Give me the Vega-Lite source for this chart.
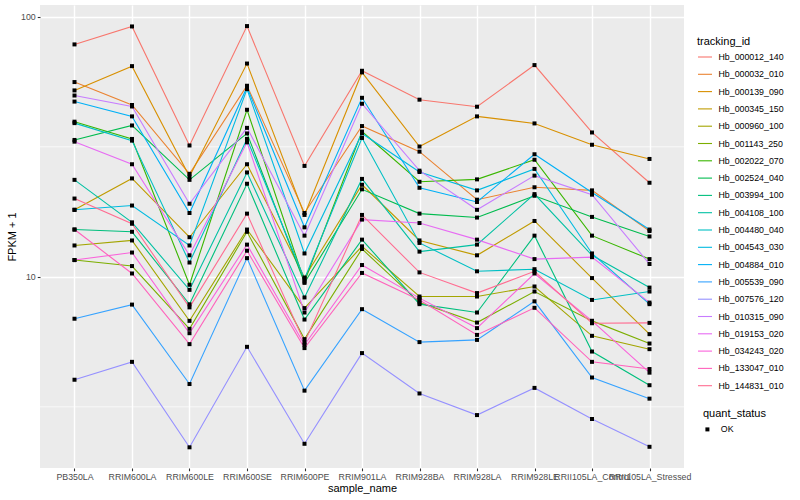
{
"$schema":"https://vega.github.io/schema/vega-lite/v6.json",
"width":644,"height":463,
"autosize":{"type":"none"},
"padding":{"left":40,"top":5,"right":116,"bottom":32},
"background":"white",
"config":{"view":{"fill":"#EBEBEB","stroke":null},"font":"Liberation Sans"},
"data":{"values":[
{"tracking_id":"Hb_000012_140","sample_name":"PB350LA","FPKM":78.3,"quant_status":"OK"},
{"tracking_id":"Hb_000012_140","sample_name":"RRIM600LA","FPKM":91.8,"quant_status":"OK"},
{"tracking_id":"Hb_000012_140","sample_name":"RRIM600LE","FPKM":32.0,"quant_status":"OK"},
{"tracking_id":"Hb_000012_140","sample_name":"RRIM600SE","FPKM":92.1,"quant_status":"OK"},
{"tracking_id":"Hb_000012_140","sample_name":"RRIM600PE","FPKM":26.7,"quant_status":"OK"},
{"tracking_id":"Hb_000012_140","sample_name":"RRIM901LA","FPKM":62.0,"quant_status":"OK"},
{"tracking_id":"Hb_000012_140","sample_name":"RRIM928BA","FPKM":48.0,"quant_status":"OK"},
{"tracking_id":"Hb_000012_140","sample_name":"RRIM928LA","FPKM":45.1,"quant_status":"OK"},
{"tracking_id":"Hb_000012_140","sample_name":"RRIM928LE","FPKM":65.2,"quant_status":"OK"},
{"tracking_id":"Hb_000012_140","sample_name":"RRII105LA_Control","FPKM":35.9,"quant_status":"OK"},
{"tracking_id":"Hb_000012_140","sample_name":"RRII105LA_Stressed","FPKM":23.0,"quant_status":"OK"},
{"tracking_id":"Hb_000032_010","sample_name":"PB350LA","FPKM":56.1,"quant_status":"OK"},
{"tracking_id":"Hb_000032_010","sample_name":"RRIM600LA","FPKM":45.8,"quant_status":"OK"},
{"tracking_id":"Hb_000032_010","sample_name":"RRIM600LE","FPKM":24.9,"quant_status":"OK"},
{"tracking_id":"Hb_000032_010","sample_name":"RRIM600SE","FPKM":54.3,"quant_status":"OK"},
{"tracking_id":"Hb_000032_010","sample_name":"RRIM600PE","FPKM":17.6,"quant_status":"OK"},
{"tracking_id":"Hb_000032_010","sample_name":"RRIM901LA","FPKM":38.0,"quant_status":"OK"},
{"tracking_id":"Hb_000032_010","sample_name":"RRIM928BA","FPKM":30.3,"quant_status":"OK"},
{"tracking_id":"Hb_000032_010","sample_name":"RRIM928LA","FPKM":19.8,"quant_status":"OK"},
{"tracking_id":"Hb_000032_010","sample_name":"RRIM928LE","FPKM":22.1,"quant_status":"OK"},
{"tracking_id":"Hb_000032_010","sample_name":"RRII105LA_Control","FPKM":21.5,"quant_status":"OK"},
{"tracking_id":"Hb_000032_010","sample_name":"RRII105LA_Stressed","FPKM":15.0,"quant_status":"OK"},
{"tracking_id":"Hb_000139_090","sample_name":"PB350LA","FPKM":52.1,"quant_status":"OK"},
{"tracking_id":"Hb_000139_090","sample_name":"RRIM600LA","FPKM":64.6,"quant_status":"OK"},
{"tracking_id":"Hb_000139_090","sample_name":"RRIM600LE","FPKM":24.3,"quant_status":"OK"},
{"tracking_id":"Hb_000139_090","sample_name":"RRIM600SE","FPKM":66.1,"quant_status":"OK"},
{"tracking_id":"Hb_000139_090","sample_name":"RRIM600PE","FPKM":17.3,"quant_status":"OK"},
{"tracking_id":"Hb_000139_090","sample_name":"RRIM901LA","FPKM":61.1,"quant_status":"OK"},
{"tracking_id":"Hb_000139_090","sample_name":"RRIM928BA","FPKM":31.7,"quant_status":"OK"},
{"tracking_id":"Hb_000139_090","sample_name":"RRIM928LA","FPKM":41.4,"quant_status":"OK"},
{"tracking_id":"Hb_000139_090","sample_name":"RRIM928LE","FPKM":38.9,"quant_status":"OK"},
{"tracking_id":"Hb_000139_090","sample_name":"RRII105LA_Control","FPKM":32.2,"quant_status":"OK"},
{"tracking_id":"Hb_000139_090","sample_name":"RRII105LA_Stressed","FPKM":28.4,"quant_status":"OK"},
{"tracking_id":"Hb_000345_150","sample_name":"PB350LA","FPKM":18.1,"quant_status":"OK"},
{"tracking_id":"Hb_000345_150","sample_name":"RRIM600LA","FPKM":23.9,"quant_status":"OK"},
{"tracking_id":"Hb_000345_150","sample_name":"RRIM600LE","FPKM":14.2,"quant_status":"OK"},
{"tracking_id":"Hb_000345_150","sample_name":"RRIM600SE","FPKM":27.1,"quant_status":"OK"},
{"tracking_id":"Hb_000345_150","sample_name":"RRIM600PE","FPKM":9.94,"quant_status":"OK"},
{"tracking_id":"Hb_000345_150","sample_name":"RRIM901LA","FPKM":22.6,"quant_status":"OK"},
{"tracking_id":"Hb_000345_150","sample_name":"RRIM928BA","FPKM":13.8,"quant_status":"OK"},
{"tracking_id":"Hb_000345_150","sample_name":"RRIM928LA","FPKM":12.1,"quant_status":"OK"},
{"tracking_id":"Hb_000345_150","sample_name":"RRIM928LE","FPKM":16.4,"quant_status":"OK"},
{"tracking_id":"Hb_000345_150","sample_name":"RRII105LA_Control","FPKM":9.89,"quant_status":"OK"},
{"tracking_id":"Hb_000345_150","sample_name":"RRII105LA_Stressed","FPKM":6.02,"quant_status":"OK"},
{"tracking_id":"Hb_000960_100","sample_name":"PB350LA","FPKM":13.2,"quant_status":"OK"},
{"tracking_id":"Hb_000960_100","sample_name":"RRIM600LA","FPKM":13.8,"quant_status":"OK"},
{"tracking_id":"Hb_000960_100","sample_name":"RRIM600LE","FPKM":6.77,"quant_status":"OK"},
{"tracking_id":"Hb_000960_100","sample_name":"RRIM600SE","FPKM":15.2,"quant_status":"OK"},
{"tracking_id":"Hb_000960_100","sample_name":"RRIM600PE","FPKM":7.58,"quant_status":"OK"},
{"tracking_id":"Hb_000960_100","sample_name":"RRIM901LA","FPKM":13.1,"quant_status":"OK"},
{"tracking_id":"Hb_000960_100","sample_name":"RRIM928BA","FPKM":8.40,"quant_status":"OK"},
{"tracking_id":"Hb_000960_100","sample_name":"RRIM928LA","FPKM":8.40,"quant_status":"OK"},
{"tracking_id":"Hb_000960_100","sample_name":"RRIM928LE","FPKM":9.18,"quant_status":"OK"},
{"tracking_id":"Hb_000960_100","sample_name":"RRII105LA_Control","FPKM":5.93,"quant_status":"OK"},
{"tracking_id":"Hb_000960_100","sample_name":"RRII105LA_Stressed","FPKM":5.27,"quant_status":"OK"},
{"tracking_id":"Hb_001143_250","sample_name":"PB350LA","FPKM":11.6,"quant_status":"OK"},
{"tracking_id":"Hb_001143_250","sample_name":"RRIM600LA","FPKM":11.0,"quant_status":"OK"},
{"tracking_id":"Hb_001143_250","sample_name":"RRIM600LE","FPKM":6.31,"quant_status":"OK"},
{"tracking_id":"Hb_001143_250","sample_name":"RRIM600SE","FPKM":14.9,"quant_status":"OK"},
{"tracking_id":"Hb_001143_250","sample_name":"RRIM600PE","FPKM":5.76,"quant_status":"OK"},
{"tracking_id":"Hb_001143_250","sample_name":"RRIM901LA","FPKM":12.8,"quant_status":"OK"},
{"tracking_id":"Hb_001143_250","sample_name":"RRIM928BA","FPKM":7.96,"quant_status":"OK"},
{"tracking_id":"Hb_001143_250","sample_name":"RRIM928LA","FPKM":6.67,"quant_status":"OK"},
{"tracking_id":"Hb_001143_250","sample_name":"RRIM928LE","FPKM":8.78,"quant_status":"OK"},
{"tracking_id":"Hb_001143_250","sample_name":"RRII105LA_Control","FPKM":6.77,"quant_status":"OK"},
{"tracking_id":"Hb_001143_250","sample_name":"RRII105LA_Stressed","FPKM":5.54,"quant_status":"OK"},
{"tracking_id":"Hb_002022_070","sample_name":"PB350LA","FPKM":39.5,"quant_status":"OK"},
{"tracking_id":"Hb_002022_070","sample_name":"RRIM600LA","FPKM":33.9,"quant_status":"OK"},
{"tracking_id":"Hb_002022_070","sample_name":"RRIM600LE","FPKM":9.32,"quant_status":"OK"},
{"tracking_id":"Hb_002022_070","sample_name":"RRIM600SE","FPKM":43.9,"quant_status":"OK"},
{"tracking_id":"Hb_002022_070","sample_name":"RRIM600PE","FPKM":9.59,"quant_status":"OK"},
{"tracking_id":"Hb_002022_070","sample_name":"RRIM901LA","FPKM":36.2,"quant_status":"OK"},
{"tracking_id":"Hb_002022_070","sample_name":"RRIM928BA","FPKM":23.2,"quant_status":"OK"},
{"tracking_id":"Hb_002022_070","sample_name":"RRIM928LA","FPKM":23.7,"quant_status":"OK"},
{"tracking_id":"Hb_002022_070","sample_name":"RRIM928LE","FPKM":28.2,"quant_status":"OK"},
{"tracking_id":"Hb_002022_070","sample_name":"RRII105LA_Control","FPKM":14.4,"quant_status":"OK"},
{"tracking_id":"Hb_002022_070","sample_name":"RRII105LA_Stressed","FPKM":11.7,"quant_status":"OK"},
{"tracking_id":"Hb_002524_040","sample_name":"PB350LA","FPKM":33.6,"quant_status":"OK"},
{"tracking_id":"Hb_002524_040","sample_name":"RRIM600LA","FPKM":38.2,"quant_status":"OK"},
{"tracking_id":"Hb_002524_040","sample_name":"RRIM600LE","FPKM":23.6,"quant_status":"OK"},
{"tracking_id":"Hb_002524_040","sample_name":"RRIM600SE","FPKM":35.6,"quant_status":"OK"},
{"tracking_id":"Hb_002524_040","sample_name":"RRIM600PE","FPKM":9.48,"quant_status":"OK"},
{"tracking_id":"Hb_002524_040","sample_name":"RRIM901LA","FPKM":21.7,"quant_status":"OK"},
{"tracking_id":"Hb_002524_040","sample_name":"RRIM928BA","FPKM":17.5,"quant_status":"OK"},
{"tracking_id":"Hb_002524_040","sample_name":"RRIM928LA","FPKM":16.9,"quant_status":"OK"},
{"tracking_id":"Hb_002524_040","sample_name":"RRIM928LE","FPKM":20.5,"quant_status":"OK"},
{"tracking_id":"Hb_002524_040","sample_name":"RRII105LA_Control","FPKM":17.0,"quant_status":"OK"},
{"tracking_id":"Hb_002524_040","sample_name":"RRII105LA_Stressed","FPKM":14.3,"quant_status":"OK"},
{"tracking_id":"Hb_003994_100","sample_name":"PB350LA","FPKM":15.2,"quant_status":"OK"},
{"tracking_id":"Hb_003994_100","sample_name":"RRIM600LA","FPKM":14.9,"quant_status":"OK"},
{"tracking_id":"Hb_003994_100","sample_name":"RRIM600LE","FPKM":7.84,"quant_status":"OK"},
{"tracking_id":"Hb_003994_100","sample_name":"RRIM600SE","FPKM":22.8,"quant_status":"OK"},
{"tracking_id":"Hb_003994_100","sample_name":"RRIM600PE","FPKM":6.85,"quant_status":"OK"},
{"tracking_id":"Hb_003994_100","sample_name":"RRIM901LA","FPKM":13.9,"quant_status":"OK"},
{"tracking_id":"Hb_003994_100","sample_name":"RRIM928BA","FPKM":7.85,"quant_status":"OK"},
{"tracking_id":"Hb_003994_100","sample_name":"RRIM928LA","FPKM":7.29,"quant_status":"OK"},
{"tracking_id":"Hb_003994_100","sample_name":"RRIM928LE","FPKM":14.4,"quant_status":"OK"},
{"tracking_id":"Hb_003994_100","sample_name":"RRII105LA_Control","FPKM":5.16,"quant_status":"OK"},
{"tracking_id":"Hb_003994_100","sample_name":"RRII105LA_Stressed","FPKM":3.83,"quant_status":"OK"},
{"tracking_id":"Hb_004108_100","sample_name":"PB350LA","FPKM":23.6,"quant_status":"OK"},
{"tracking_id":"Hb_004108_100","sample_name":"RRIM600LA","FPKM":16.2,"quant_status":"OK"},
{"tracking_id":"Hb_004108_100","sample_name":"RRIM600LE","FPKM":8.91,"quant_status":"OK"},
{"tracking_id":"Hb_004108_100","sample_name":"RRIM600SE","FPKM":25.2,"quant_status":"OK"},
{"tracking_id":"Hb_004108_100","sample_name":"RRIM600PE","FPKM":8.33,"quant_status":"OK"},
{"tracking_id":"Hb_004108_100","sample_name":"RRIM901LA","FPKM":23.8,"quant_status":"OK"},
{"tracking_id":"Hb_004108_100","sample_name":"RRIM928BA","FPKM":12.5,"quant_status":"OK"},
{"tracking_id":"Hb_004108_100","sample_name":"RRIM928LA","FPKM":13.3,"quant_status":"OK"},
{"tracking_id":"Hb_004108_100","sample_name":"RRIM928LE","FPKM":20.8,"quant_status":"OK"},
{"tracking_id":"Hb_004108_100","sample_name":"RRII105LA_Control","FPKM":12.1,"quant_status":"OK"},
{"tracking_id":"Hb_004108_100","sample_name":"RRII105LA_Stressed","FPKM":9.09,"quant_status":"OK"},
{"tracking_id":"Hb_004480_040","sample_name":"PB350LA","FPKM":39.0,"quant_status":"OK"},
{"tracking_id":"Hb_004480_040","sample_name":"RRIM600LA","FPKM":33.4,"quant_status":"OK"},
{"tracking_id":"Hb_004480_040","sample_name":"RRIM600LE","FPKM":11.35,"quant_status":"OK"},
{"tracking_id":"Hb_004480_040","sample_name":"RRIM600SE","FPKM":33.9,"quant_status":"OK"},
{"tracking_id":"Hb_004480_040","sample_name":"RRIM600PE","FPKM":9.82,"quant_status":"OK"},
{"tracking_id":"Hb_004480_040","sample_name":"RRIM901LA","FPKM":34.2,"quant_status":"OK"},
{"tracking_id":"Hb_004480_040","sample_name":"RRIM928BA","FPKM":13.5,"quant_status":"OK"},
{"tracking_id":"Hb_004480_040","sample_name":"RRIM928LA","FPKM":10.5,"quant_status":"OK"},
{"tracking_id":"Hb_004480_040","sample_name":"RRIM928LE","FPKM":10.7,"quant_status":"OK"},
{"tracking_id":"Hb_004480_040","sample_name":"RRII105LA_Control","FPKM":8.15,"quant_status":"OK"},
{"tracking_id":"Hb_004480_040","sample_name":"RRII105LA_Stressed","FPKM":8.78,"quant_status":"OK"},
{"tracking_id":"Hb_004543_030","sample_name":"PB350LA","FPKM":18.1,"quant_status":"OK"},
{"tracking_id":"Hb_004543_030","sample_name":"RRIM600LA","FPKM":18.8,"quant_status":"OK"},
{"tracking_id":"Hb_004543_030","sample_name":"RRIM600LE","FPKM":13.2,"quant_status":"OK"},
{"tracking_id":"Hb_004543_030","sample_name":"RRIM600SE","FPKM":52.7,"quant_status":"OK"},
{"tracking_id":"Hb_004543_030","sample_name":"RRIM600PE","FPKM":12.3,"quant_status":"OK"},
{"tracking_id":"Hb_004543_030","sample_name":"RRIM901LA","FPKM":35.6,"quant_status":"OK"},
{"tracking_id":"Hb_004543_030","sample_name":"RRIM928BA","FPKM":25.3,"quant_status":"OK"},
{"tracking_id":"Hb_004543_030","sample_name":"RRIM928LA","FPKM":21.5,"quant_status":"OK"},
{"tracking_id":"Hb_004543_030","sample_name":"RRIM928LE","FPKM":26.0,"quant_status":"OK"},
{"tracking_id":"Hb_004543_030","sample_name":"RRII105LA_Control","FPKM":12.3,"quant_status":"OK"},
{"tracking_id":"Hb_004543_030","sample_name":"RRII105LA_Stressed","FPKM":7.85,"quant_status":"OK"},
{"tracking_id":"Hb_004884_010","sample_name":"PB350LA","FPKM":47.2,"quant_status":"OK"},
{"tracking_id":"Hb_004884_010","sample_name":"RRIM600LA","FPKM":41.4,"quant_status":"OK"},
{"tracking_id":"Hb_004884_010","sample_name":"RRIM600LE","FPKM":17.6,"quant_status":"OK"},
{"tracking_id":"Hb_004884_010","sample_name":"RRIM600SE","FPKM":53.6,"quant_status":"OK"},
{"tracking_id":"Hb_004884_010","sample_name":"RRIM600PE","FPKM":15.5,"quant_status":"OK"},
{"tracking_id":"Hb_004884_010","sample_name":"RRIM901LA","FPKM":48.8,"quant_status":"OK"},
{"tracking_id":"Hb_004884_010","sample_name":"RRIM928BA","FPKM":22.0,"quant_status":"OK"},
{"tracking_id":"Hb_004884_010","sample_name":"RRIM928LA","FPKM":19.4,"quant_status":"OK"},
{"tracking_id":"Hb_004884_010","sample_name":"RRIM928LE","FPKM":29.6,"quant_status":"OK"},
{"tracking_id":"Hb_004884_010","sample_name":"RRII105LA_Control","FPKM":21.1,"quant_status":"OK"},
{"tracking_id":"Hb_004884_010","sample_name":"RRII105LA_Stressed","FPKM":15.2,"quant_status":"OK"},
{"tracking_id":"Hb_005539_090","sample_name":"PB350LA","FPKM":6.90,"quant_status":"OK"},
{"tracking_id":"Hb_005539_090","sample_name":"RRIM600LA","FPKM":7.82,"quant_status":"OK"},
{"tracking_id":"Hb_005539_090","sample_name":"RRIM600LE","FPKM":3.87,"quant_status":"OK"},
{"tracking_id":"Hb_005539_090","sample_name":"RRIM600SE","FPKM":11.8,"quant_status":"OK"},
{"tracking_id":"Hb_005539_090","sample_name":"RRIM600PE","FPKM":3.65,"quant_status":"OK"},
{"tracking_id":"Hb_005539_090","sample_name":"RRIM901LA","FPKM":7.51,"quant_status":"OK"},
{"tracking_id":"Hb_005539_090","sample_name":"RRIM928BA","FPKM":5.61,"quant_status":"OK"},
{"tracking_id":"Hb_005539_090","sample_name":"RRIM928LA","FPKM":5.72,"quant_status":"OK"},
{"tracking_id":"Hb_005539_090","sample_name":"RRIM928LE","FPKM":8.05,"quant_status":"OK"},
{"tracking_id":"Hb_005539_090","sample_name":"RRII105LA_Control","FPKM":4.10,"quant_status":"OK"},
{"tracking_id":"Hb_005539_090","sample_name":"RRII105LA_Stressed","FPKM":3.40,"quant_status":"OK"},
{"tracking_id":"Hb_007576_120","sample_name":"PB350LA","FPKM":4.02,"quant_status":"OK"},
{"tracking_id":"Hb_007576_120","sample_name":"RRIM600LA","FPKM":4.71,"quant_status":"OK"},
{"tracking_id":"Hb_007576_120","sample_name":"RRIM600LE","FPKM":2.21,"quant_status":"OK"},
{"tracking_id":"Hb_007576_120","sample_name":"RRIM600SE","FPKM":5.38,"quant_status":"OK"},
{"tracking_id":"Hb_007576_120","sample_name":"RRIM600PE","FPKM":2.28,"quant_status":"OK"},
{"tracking_id":"Hb_007576_120","sample_name":"RRIM901LA","FPKM":5.09,"quant_status":"OK"},
{"tracking_id":"Hb_007576_120","sample_name":"RRIM928BA","FPKM":3.56,"quant_status":"OK"},
{"tracking_id":"Hb_007576_120","sample_name":"RRIM928LA","FPKM":2.94,"quant_status":"OK"},
{"tracking_id":"Hb_007576_120","sample_name":"RRIM928LE","FPKM":3.74,"quant_status":"OK"},
{"tracking_id":"Hb_007576_120","sample_name":"RRII105LA_Control","FPKM":2.84,"quant_status":"OK"},
{"tracking_id":"Hb_007576_120","sample_name":"RRII105LA_Stressed","FPKM":2.22,"quant_status":"OK"},
{"tracking_id":"Hb_010315_090","sample_name":"PB350LA","FPKM":49.8,"quant_status":"OK"},
{"tracking_id":"Hb_010315_090","sample_name":"RRIM600LA","FPKM":45.2,"quant_status":"OK"},
{"tracking_id":"Hb_010315_090","sample_name":"RRIM600LE","FPKM":19.1,"quant_status":"OK"},
{"tracking_id":"Hb_010315_090","sample_name":"RRIM600SE","FPKM":37.4,"quant_status":"OK"},
{"tracking_id":"Hb_010315_090","sample_name":"RRIM600PE","FPKM":14.4,"quant_status":"OK"},
{"tracking_id":"Hb_010315_090","sample_name":"RRIM901LA","FPKM":46.3,"quant_status":"OK"},
{"tracking_id":"Hb_010315_090","sample_name":"RRIM928BA","FPKM":25.6,"quant_status":"OK"},
{"tracking_id":"Hb_010315_090","sample_name":"RRIM928LA","FPKM":18.1,"quant_status":"OK"},
{"tracking_id":"Hb_010315_090","sample_name":"RRIM928LE","FPKM":24.5,"quant_status":"OK"},
{"tracking_id":"Hb_010315_090","sample_name":"RRII105LA_Control","FPKM":20.7,"quant_status":"OK"},
{"tracking_id":"Hb_010315_090","sample_name":"RRII105LA_Stressed","FPKM":11.2,"quant_status":"OK"},
{"tracking_id":"Hb_019153_020","sample_name":"PB350LA","FPKM":33.1,"quant_status":"OK"},
{"tracking_id":"Hb_019153_020","sample_name":"RRIM600LA","FPKM":27.1,"quant_status":"OK"},
{"tracking_id":"Hb_019153_020","sample_name":"RRIM600LE","FPKM":12.1,"quant_status":"OK"},
{"tracking_id":"Hb_019153_020","sample_name":"RRIM600SE","FPKM":32.9,"quant_status":"OK"},
{"tracking_id":"Hb_019153_020","sample_name":"RRIM600PE","FPKM":7.29,"quant_status":"OK"},
{"tracking_id":"Hb_019153_020","sample_name":"RRIM901LA","FPKM":16.6,"quant_status":"OK"},
{"tracking_id":"Hb_019153_020","sample_name":"RRIM928BA","FPKM":16.1,"quant_status":"OK"},
{"tracking_id":"Hb_019153_020","sample_name":"RRIM928LA","FPKM":13.9,"quant_status":"OK"},
{"tracking_id":"Hb_019153_020","sample_name":"RRIM928LE","FPKM":11.7,"quant_status":"OK"},
{"tracking_id":"Hb_019153_020","sample_name":"RRII105LA_Control","FPKM":11.9,"quant_status":"OK"},
{"tracking_id":"Hb_019153_020","sample_name":"RRII105LA_Stressed","FPKM":7.96,"quant_status":"OK"},
{"tracking_id":"Hb_034243_020","sample_name":"PB350LA","FPKM":11.6,"quant_status":"OK"},
{"tracking_id":"Hb_034243_020","sample_name":"RRIM600LA","FPKM":12.4,"quant_status":"OK"},
{"tracking_id":"Hb_034243_020","sample_name":"RRIM600LE","FPKM":6.07,"quant_status":"OK"},
{"tracking_id":"Hb_034243_020","sample_name":"RRIM600SE","FPKM":13.3,"quant_status":"OK"},
{"tracking_id":"Hb_034243_020","sample_name":"RRIM600PE","FPKM":5.48,"quant_status":"OK"},
{"tracking_id":"Hb_034243_020","sample_name":"RRIM901LA","FPKM":11.1,"quant_status":"OK"},
{"tracking_id":"Hb_034243_020","sample_name":"RRIM928BA","FPKM":8.28,"quant_status":"OK"},
{"tracking_id":"Hb_034243_020","sample_name":"RRIM928LA","FPKM":6.35,"quant_status":"OK"},
{"tracking_id":"Hb_034243_020","sample_name":"RRIM928LE","FPKM":10.3,"quant_status":"OK"},
{"tracking_id":"Hb_034243_020","sample_name":"RRII105LA_Control","FPKM":6.77,"quant_status":"OK"},
{"tracking_id":"Hb_034243_020","sample_name":"RRII105LA_Stressed","FPKM":4.28,"quant_status":"OK"},
{"tracking_id":"Hb_133047_010","sample_name":"PB350LA","FPKM":15.2,"quant_status":"OK"},
{"tracking_id":"Hb_133047_010","sample_name":"RRIM600LA","FPKM":10.3,"quant_status":"OK"},
{"tracking_id":"Hb_133047_010","sample_name":"RRIM600LE","FPKM":5.51,"quant_status":"OK"},
{"tracking_id":"Hb_133047_010","sample_name":"RRIM600SE","FPKM":12.6,"quant_status":"OK"},
{"tracking_id":"Hb_133047_010","sample_name":"RRIM600PE","FPKM":5.32,"quant_status":"OK"},
{"tracking_id":"Hb_133047_010","sample_name":"RRIM901LA","FPKM":10.35,"quant_status":"OK"},
{"tracking_id":"Hb_133047_010","sample_name":"RRIM928BA","FPKM":8.15,"quant_status":"OK"},
{"tracking_id":"Hb_133047_010","sample_name":"RRIM928LA","FPKM":5.98,"quant_status":"OK"},
{"tracking_id":"Hb_133047_010","sample_name":"RRIM928LE","FPKM":7.60,"quant_status":"OK"},
{"tracking_id":"Hb_133047_010","sample_name":"RRII105LA_Control","FPKM":4.71,"quant_status":"OK"},
{"tracking_id":"Hb_133047_010","sample_name":"RRII105LA_Stressed","FPKM":4.42,"quant_status":"OK"},
{"tracking_id":"Hb_144831_010","sample_name":"PB350LA","FPKM":20.0,"quant_status":"OK"},
{"tracking_id":"Hb_144831_010","sample_name":"RRIM600LA","FPKM":16.0,"quant_status":"OK"},
{"tracking_id":"Hb_144831_010","sample_name":"RRIM600LE","FPKM":7.63,"quant_status":"OK"},
{"tracking_id":"Hb_144831_010","sample_name":"RRIM600SE","FPKM":17.5,"quant_status":"OK"},
{"tracking_id":"Hb_144831_010","sample_name":"RRIM600PE","FPKM":5.59,"quant_status":"OK"},
{"tracking_id":"Hb_144831_010","sample_name":"RRIM901LA","FPKM":17.3,"quant_status":"OK"},
{"tracking_id":"Hb_144831_010","sample_name":"RRIM928BA","FPKM":10.4,"quant_status":"OK"},
{"tracking_id":"Hb_144831_010","sample_name":"RRIM928LA","FPKM":8.66,"quant_status":"OK"},
{"tracking_id":"Hb_144831_010","sample_name":"RRIM928LE","FPKM":10.5,"quant_status":"OK"},
{"tracking_id":"Hb_144831_010","sample_name":"RRII105LA_Control","FPKM":6.63,"quant_status":"OK"},
{"tracking_id":"Hb_144831_010","sample_name":"RRII105LA_Stressed","FPKM":6.65,"quant_status":"OK"}
]},
"layer":[
{"data":{"values":[{}]},"mark":{"type":"rule","color":"white","strokeWidth":0.7},
 "encoding":{"y":{"datum":3.1623,"type":"quantitative","scale":{"type":"log","domain":[1.84,111],"nice":false},
  "axis":{"title":"FPKM + 1","values":[10,100],"format":"d","grid":true,"gridColor":"white","gridWidth":1.4,"domain":false,"tickColor":"#333333","tickSize":2.75,"tickWidth":1.07,"labelFontSize":8.8,"labelColor":"#4D4D4D","labelPadding":2,"titleFontSize":11,"titleFontWeight":"normal","titleColor":"black","titlePadding":3}}}},
{"data":{"values":[{}]},"mark":{"type":"rule","color":"white","strokeWidth":0.7},
 "encoding":{"y":{"datum":31.623,"type":"quantitative","scale":{"type":"log","domain":[1.84,111],"nice":false},
  "axis":{"title":"FPKM + 1","values":[10,100],"format":"d","grid":true,"gridColor":"white","gridWidth":1.4,"domain":false,"tickColor":"#333333","tickSize":2.75,"tickWidth":1.07,"labelFontSize":8.8,"labelColor":"#4D4D4D","labelPadding":2,"titleFontSize":11,"titleFontWeight":"normal","titleColor":"black","titlePadding":3}}}},
{"mark":{"type":"line","strokeWidth":1.1},
 "encoding":{
  "x":{"field":"sample_name","type":"ordinal","sort":["PB350LA","RRIM600LA","RRIM600LE","RRIM600SE","RRIM600PE","RRIM901LA","RRIM928BA","RRIM928LA","RRIM928LE","RRII105LA_Control","RRII105LA_Stressed"],"scale":{"type":"point","padding":0.6},
   "axis":{"title":"sample_name","labelAngle":0,"grid":true,"gridColor":"white","gridWidth":1.4,"domain":false,"tickColor":"#333333","tickSize":2.75,"tickWidth":1.07,"labelFontSize":8.8,"labelColor":"#4D4D4D","labelPadding":2,"titleFontSize":11,"titleFontWeight":"normal","titleColor":"black","titlePadding":1}},
  "y":{"field":"FPKM","type":"quantitative","scale":{"type":"log","domain":[1.84,111],"nice":false},
   "axis":{"title":"FPKM + 1","values":[10,100],"format":"d","grid":true,"gridColor":"white","gridWidth":1.4,"domain":false,"tickColor":"#333333","tickSize":2.75,"tickWidth":1.07,"labelFontSize":8.8,"labelColor":"#4D4D4D","labelPadding":2,"titleFontSize":11,"titleFontWeight":"normal","titleColor":"black","titlePadding":3}},
  "color":{"field":"tracking_id","type":"nominal",
   "scale":{"domain":["Hb_000012_140","Hb_000032_010","Hb_000139_090","Hb_000345_150","Hb_000960_100","Hb_001143_250","Hb_002022_070","Hb_002524_040","Hb_003994_100","Hb_004108_100","Hb_004480_040","Hb_004543_030","Hb_004884_010","Hb_005539_090","Hb_007576_120","Hb_010315_090","Hb_019153_020","Hb_034243_020","Hb_133047_010","Hb_144831_010"],
    "range":["#F8766D","#EA8331","#D89000","#C09B00","#A3A500","#7CAE00","#39B600","#00BB4E","#00BF7D","#00C1A3","#00BFC4","#00BAE0","#00B0F6","#35A2FF","#9590FF","#C77CFF","#E76BF3","#FA62DB","#FF62BC","#FF6C91"]},
   "legend":{"title":"tracking_id","orient":"none","legendX":657,"legendY":31,"symbolType":"stroke","symbolSize":196,"symbolStrokeWidth":1.1,"labelFontSize":8.8,"labelColor":"black","titleFontSize":11,"titleFontWeight":"normal","titleColor":"black","rowPadding":4.3,"labelOffset":5.5,"titlePadding":2,"symbolLimit":0}}
 }},
{"mark":{"type":"point","filled":true,"color":"black","size":16,"opacity":1},
 "encoding":{
  "x":{"field":"sample_name","type":"ordinal","sort":["PB350LA","RRIM600LA","RRIM600LE","RRIM600SE","RRIM600PE","RRIM901LA","RRIM928BA","RRIM928LA","RRIM928LE","RRII105LA_Control","RRII105LA_Stressed"],"scale":{"type":"point","padding":0.6},
   "axis":{"title":"sample_name","labelAngle":0,"grid":true,"gridColor":"white","gridWidth":1.4,"domain":false,"tickColor":"#333333","tickSize":2.75,"tickWidth":1.07,"labelFontSize":8.8,"labelColor":"#4D4D4D","labelPadding":2,"titleFontSize":11,"titleFontWeight":"normal","titleColor":"black","titlePadding":1}},
  "y":{"field":"FPKM","type":"quantitative","scale":{"type":"log","domain":[1.84,111],"nice":false},
   "axis":{"title":"FPKM + 1","values":[10,100],"format":"d","grid":true,"gridColor":"white","gridWidth":1.4,"domain":false,"tickColor":"#333333","tickSize":2.75,"tickWidth":1.07,"labelFontSize":8.8,"labelColor":"#4D4D4D","labelPadding":2,"titleFontSize":11,"titleFontWeight":"normal","titleColor":"black","titlePadding":3}},
  "shape":{"field":"quant_status","type":"nominal","scale":{"range":["square"]},
   "legend":{"title":"quant_status","orient":"none","legendX":663,"legendY":403,"symbolSize":16,"symbolFillColor":"black","symbolStrokeColor":"black","labelFontSize":8.8,"labelColor":"black","titleFontSize":11,"titleFontWeight":"normal","titleColor":"black","labelOffset":9,"titlePadding":6}}
 }}
]
}
